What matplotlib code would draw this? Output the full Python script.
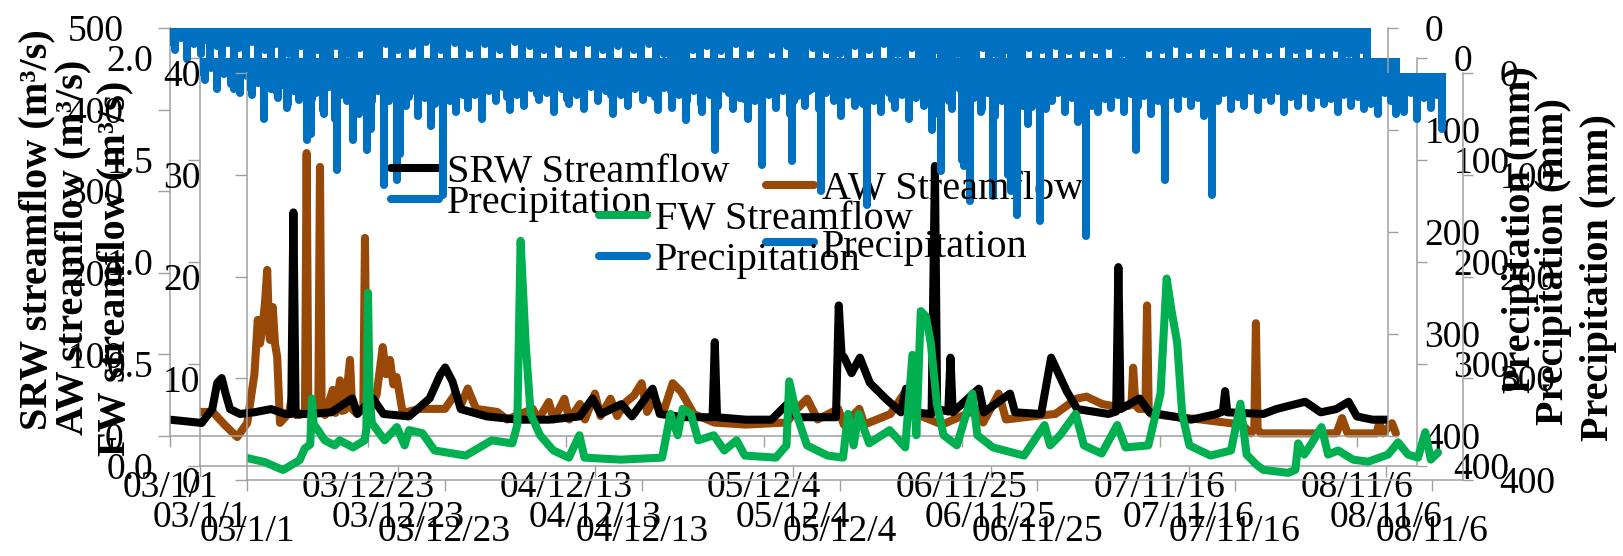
# Streamflow + precipitation for SRW / AW / FW (three overlaid Excel-style charts)
import numpy as np
import matplotlib.pyplot as plt
from matplotlib.lines import Line2D
from matplotlib.ticker import FormatStrFormatter

plt.rcParams['font.family'] = ['Liberation Serif', 'DejaVu Serif']

# ---- Data (days after 2003-01-01) ----
start_date  = np.datetime64('2003-01-01')
end_day     = 2191
tick_dates  = ['2003-01-01', '2003-12-23', '2004-12-13', '2005-12-04',
               '2006-11-25', '2007-11-16', '2008-11-06']
tick_labels = ['03/1/1', '03/12/23', '04/12/13', '05/12/4', '06/11/25', '07/11/16', '08/11/6']

srw_day  = [0, 29, 57, 76, 85, 93, 100, 108, 126, 151, 182, 207, 218, 222, 226, 253, 290, 328, 337, 365,
            384, 430, 467, 486, 495, 508, 523, 570, 626, 682, 737, 760, 775, 812, 831, 868, 881, 924, 976, 980,
            984, 1036, 1082, 1110, 1129, 1198, 1203, 1208, 1213, 1226, 1241, 1259, 1287, 1315, 1324, 1334, 1370,
            1376, 1380, 1400, 1404, 1408, 1455, 1464, 1511, 1520, 1567, 1585, 1598, 1613, 1632, 1688, 1702, 1706,
            1710, 1744, 1762, 1837, 1883, 1894, 1898, 1902, 1967, 1990, 2042, 2070, 2098, 2120, 2135, 2163, 2191]
srw_flow = [20, 18, 16, 33, 65, 71, 52, 33, 27, 29, 33, 27, 27, 274, 27, 27, 29, 46, 27, 46,
            27, 24, 46, 75, 84, 67, 33, 24, 20, 20, 24, 46, 27, 39, 24, 58, 27, 23, 23, 115,
            23, 20, 20, 39, 23, 23, 160, 100, 96, 77, 96, 65, 46, 29, 58, 29, 27,
            331, 33, 30, 96, 29, 58, 29, 52, 29, 27, 96, 77, 55, 33, 27, 30, 207,
            33, 46, 29, 20, 27, 30, 55, 29, 27, 33, 42, 29, 33, 42, 24, 20, 20]

aw_day  = [0, 23, 45, 67, 85, 98, 104, 108, 112, 117, 121, 124, 126, 131, 135, 139, 144, 160, 167, 173,
           180, 189, 192, 195, 201, 213, 216, 219, 225, 239, 244, 252, 256, 261, 270, 274, 279, 294, 297, 300,
           306, 318, 329, 335, 342, 348, 354, 365, 395, 441, 460, 470, 482, 497, 535, 553, 599, 609, 628, 637,
           656, 665, 684, 693, 711, 721, 739, 751, 767, 781, 795, 805, 818, 833, 851, 866, 889, 926, 982, 1056,
           1075, 1093, 1112, 1149, 1159, 1187, 1196, 1243, 1270, 1298, 1336, 1401, 1410, 1438, 1451, 1503, 1540,
           1578, 1596, 1624, 1643, 1671, 1677, 1680, 1684, 1690, 1702, 1705, 1708, 1712, 1745, 1801, 1876, 1892,
           1898, 1901, 1904, 1910, 1979, 2046, 2056, 2066, 2118, 2123, 2130, 2146, 2153]
aw_flow = [0.265, 0.265, 0.2, 0.142, 0.211, 0.45, 0.716, 0.6, 0.667, 0.8, 0.961, 0.7, 0.618, 0.779, 0.6, 0.534,
           0.211, 0.26, 0.358, 0.25, 0.25, 0.27, 1.534, 0.27, 0.25, 0.27, 1.466, 0.27, 0.25, 0.373, 0.26, 0.42,
           0.27, 0.275, 0.52, 0.28, 0.265, 0.28, 1.118, 0.3, 0.275, 0.35, 0.583, 0.45, 0.52, 0.4, 0.436, 0.26,
           0.28, 0.28, 0.355, 0.3, 0.38, 0.28, 0.265, 0.228, 0.28, 0.228, 0.314, 0.228, 0.33, 0.228, 0.304,
           0.228, 0.355, 0.245, 0.33, 0.245, 0.314, 0.345, 0.406, 0.265, 0.33, 0.255, 0.406, 0.365, 0.255,
           0.213, 0.203, 0.213, 0.28, 0.33, 0.228, 0.28, 0.203, 0.28, 0.203, 0.255, 0.365, 0.245, 0.203, 0.28,
           0.213, 0.355, 0.228, 0.245, 0.255, 0.33, 0.34, 0.304, 0.294, 0.294, 0.3, 0.482, 0.3, 0.28, 0.28,
           0.787, 0.27, 0.255, 0.245, 0.228, 0.203, 0.16, 0.18, 0.70, 0.18, 0.16, 0.16, 0.16, 0.235, 0.16,
           0.16, 0.21, 0.16, 0.21, 0.16]

fw_day  = [0, 32, 65, 95, 104, 114, 117, 120, 128, 140, 158, 167, 191, 212, 215, 218, 221, 225, 248, 270,
           284, 292, 316, 338, 394, 441, 478, 487, 493, 502, 511, 528, 552, 580, 599, 608, 673, 748, 763, 776,
           785, 800, 813, 841, 860, 882, 897, 953, 972, 977, 990, 1009, 1046, 1074, 1083, 1093, 1102, 1121,
           1158, 1186, 1199, 1206, 1214, 1223, 1232, 1243, 1255, 1279, 1307, 1316, 1344, 1400, 1437, 1447,
           1465, 1493, 1508, 1540, 1568, 1583, 1624, 1646, 1657, 1666, 1676, 1685, 1698, 1736, 1773, 1790,
           1801, 1819, 1831, 1876, 1889, 1894, 1905, 1916, 1936, 1948, 1966, 1993, 2020, 2056, 2074, 2092,
           2110, 2123, 2133, 2146]
fw_flow = [2.16, 1.76, 0.98, 1.96, 3.1, 3.5, 8.0, 5.5, 4.9, 3.9, 3.4, 3.9, 3.2, 3.9, 5.0, 18.4, 8.0, 5.6, 3.9,
           5.2, 3.4, 4.9, 4.6, 2.9, 2.4, 3.9, 3.6, 5.4, 23.5, 13.5, 6.5, 4.4, 2.9, 2.2, 4.4, 2.2, 2.0, 2.2,
           6.5, 4.4, 7.0, 6.5, 3.9, 4.4, 2.9, 3.9, 2.4, 2.2, 3.4, 9.7, 6.5, 3.4, 2.4, 2.2, 6.5, 3.4, 6.5, 3.6,
           4.9, 3.2, 12.3, 4.4, 16.6, 16.1, 13.5, 7.5, 4.4, 3.4, 8.5, 4.4, 3.2, 2.4, 5.4, 3.4,
           4.4, 6.5, 3.4, 2.6, 5.4, 3.2, 3.4, 8.5, 19.8, 16.6, 13.5, 6.5, 3.4, 2.4, 2.9, 7.5,
           2.5, 1.5, 1.0, 0.7, 1.0, 3.6, 2.5, 3.4, 5.2, 2.5, 2.9, 2.0, 1.8, 2.5, 3.7, 2.5,
           2.2, 4.7, 2.0, 2.7]

precip_day = [2, 9, 20, 31, 44, 55, 63, 72, 84, 93, 104, 116, 125, 137, 148, 158, 170, 181, 190, 202,
              214, 224, 236, 246, 255, 266, 275, 287, 298, 309, 320, 331, 342, 354, 365, 376, 388, 399, 411, 423,
              436, 449, 461, 474, 487, 499, 512, 526, 540, 553, 567, 580, 594, 607, 620, 633, 647, 660, 673, 686,
              700, 713, 727, 740, 752, 765, 779, 792, 806, 820, 834, 848, 861, 875, 888, 902, 915, 928, 941, 953,
              966, 979, 992, 1005, 1018, 1031, 1044, 1057, 1070, 1083, 1096, 1109, 1118, 1130, 1143, 1156, 1168,
              1181, 1193, 1206, 1219, 1232, 1245, 1258, 1271, 1284, 1297, 1310, 1322, 1335, 1348, 1360, 1371, 1379,
              1387, 1398, 1407, 1418, 1428, 1439, 1450, 1462, 1474, 1486, 1497, 1505, 1512, 1522, 1533, 1545, 1557,
              1569, 1581, 1593, 1605, 1617, 1629, 1641, 1653, 1665, 1677, 1689, 1701, 1713, 1725, 1738, 1749, 1761,
              1773, 1785, 1797, 1809, 1821, 1833, 1845, 1857, 1869, 1881, 1893, 1905, 1917, 1929, 1941, 1953, 1965,
              1977, 1989, 2001, 2013, 2025, 2037, 2049, 2061, 2073, 2085, 2097, 2109, 2121, 2133, 2145, 2154]
precip_mm  = [14, 22, 10, 30, 16, 25, 12, 34, 18, 27, 15, 60, 20, 32, 14, 45, 22, 28, 16, 40,
              25, 55, 18, 110, 28, 22, 80, 32, 18, 42, 25, 52, 20, 120, 28, 38, 16, 34, 22, 45,
              18, 28, 14, 36, 22, 32, 15, 27, 20, 38, 16, 30, 22, 35, 14, 28, 18, 40, 22, 32,
              16, 27, 20, 36, 15, 34, 22, 28, 18, 38, 22, 32, 16, 35, 25, 45, 28, 90, 22, 34,
              18, 40, 23, 32, 16, 35, 20, 28, 42, 22, 32, 18, 130, 28, 38, 20, 34,
              22, 45, 25, 32, 18, 40, 22, 35, 16, 32, 25, 38, 20, 42, 28, 100, 22,
              140, 32, 50, 25, 135, 35, 28, 20, 38, 25, 48, 22, 160, 32, 38, 20, 34,
              22, 38, 18, 32, 23, 40, 20, 30, 22, 35, 18, 32, 25, 42, 120, 28, 20,
              35, 22, 32, 16, 36, 22, 28, 18, 38, 22, 32, 16, 34, 22, 30, 18, 38,
              22, 32, 16, 35, 22, 40, 18, 28, 22, 38, 20, 45, 25, 34, 22, 55]

# ---- Style ----
W, H   = 1624, 556
FS     = 27      # tick labels
FS_T   = 29      # legends and axis titles
LW     = 5.8
GRAY   = '#a0a0a0'
BLUE   = '#0070C0'
tick_days = [int((np.datetime64(d) - start_date).astype(int)) for d in tick_dates]

fig = plt.figure(figsize=(W / 100, H / 100), dpi=100)


def px_box(left, top, right, bottom):
    return [left / W, 1 - bottom / H, (right - left) / W, (bottom - top) / H]


def make_chart(box, day, flow, color, name, ymax, ystep, yfmt, leg_xy, spacing):
    ax = fig.add_axes(px_box(*box))
    ax.patch.set_visible(False)
    ax.plot(day, flow, color=color, lw=LW, solid_joinstyle='round', solid_capstyle='round')
    ax.set_xlim(0, end_day)
    ax.set_ylim(0, ymax)
    ax.set_yticks(np.arange(0, ymax + ystep / 2, ystep))
    ax.yaxis.set_major_formatter(FormatStrFormatter(yfmt))
    ax.set_xticks(tick_days)
    ax.set_xticklabels(tick_labels)
    ax.tick_params(axis='y', direction='out', length=8.6, width=1, color=GRAY, pad=25, labelsize=FS)
    ax.tick_params(axis='x', direction='out', length=8, width=1, color=GRAY, pad=17, labelsize=FS)
    for s in ['top', 'right']:
        ax.spines[s].set_visible(False)
    for s in ['left', 'bottom']:
        ax.spines[s].set_color(GRAY)
        ax.spines[s].set_linewidth(1.1)

    # precipitation on the inverted secondary axis
    ax2 = ax.twinx()
    ax2.patch.set_visible(False)
    ax2.hlines(0, precip_day[0], precip_day[-1], color=BLUE, lw=LW)
    ax2.vlines(precip_day, 0, precip_mm, color=BLUE, lw=LW, capstyle='round')
    ax2.set_ylim(400, 0)
    ax2.set_yticks([0, 100, 200, 300, 400])
    ax2.tick_params(axis='y', direction='out', length=7.2, width=1, color=GRAY, pad=19, labelsize=FS)
    for s in ['top', 'left', 'bottom']:
        ax2.spines[s].set_visible(False)
    ax2.spines['right'].set_color(GRAY)
    ax2.spines['right'].set_linewidth(1.1)

    handles = [Line2D([], [], color=color, lw=LW, solid_capstyle='round'),
               Line2D([], [], color=BLUE, lw=LW, solid_capstyle='round')]
    ax2.legend(handles, [name + ' Streamflow', 'Precipitation'], loc='upper left',
               bbox_to_anchor=(leg_xy[0] / W, 1 - leg_xy[1] / H), bbox_transform=fig.transFigure,
               frameon=False, borderpad=0, borderaxespad=0, handlelength=1.19,
               handletextpad=0.2, labelspacing=spacing, fontsize=FS_T)
    return ax, ax2


# drawing order: AW underneath, SRW in the middle, FW on top
make_chart((200, 58, 1417, 466), aw_day, aw_flow, '#984807', 'AW', 2.0, 0.5, '%.1f', (766, 171), 0.5)
make_chart((170, 28, 1388, 436), srw_day, srw_flow, 'black', 'SRW', 500, 100, '%d', (391, 154), -0.15)
make_chart((247, 73, 1463, 480), fw_day, fw_flow, '#00B050', 'FW', 40, 10, '%d', (599, 201), 0.08)

# axis titles
for x, y, txt in [(37, 230, 'SRW streamflow (m³/s)'), (73, 247, 'AW streamflow (m³/s)'),
                  (115, 268, 'FW streamflow (m³/s)')]:
    fig.text(x / W, 1 - y / H, txt, rotation=90, ha='center', va='center', fontsize=FS_T, fontweight='bold')
for x, y in [(1521, 230), (1554, 262), (1599, 278)]:
    fig.text(x / W, 1 - y / H, 'Precipitation (mm)', rotation=90, ha='center', va='center',
             fontsize=FS_T, fontweight='bold')

plt.savefig('out.png', dpi=100)
print('Saved: out.png')
